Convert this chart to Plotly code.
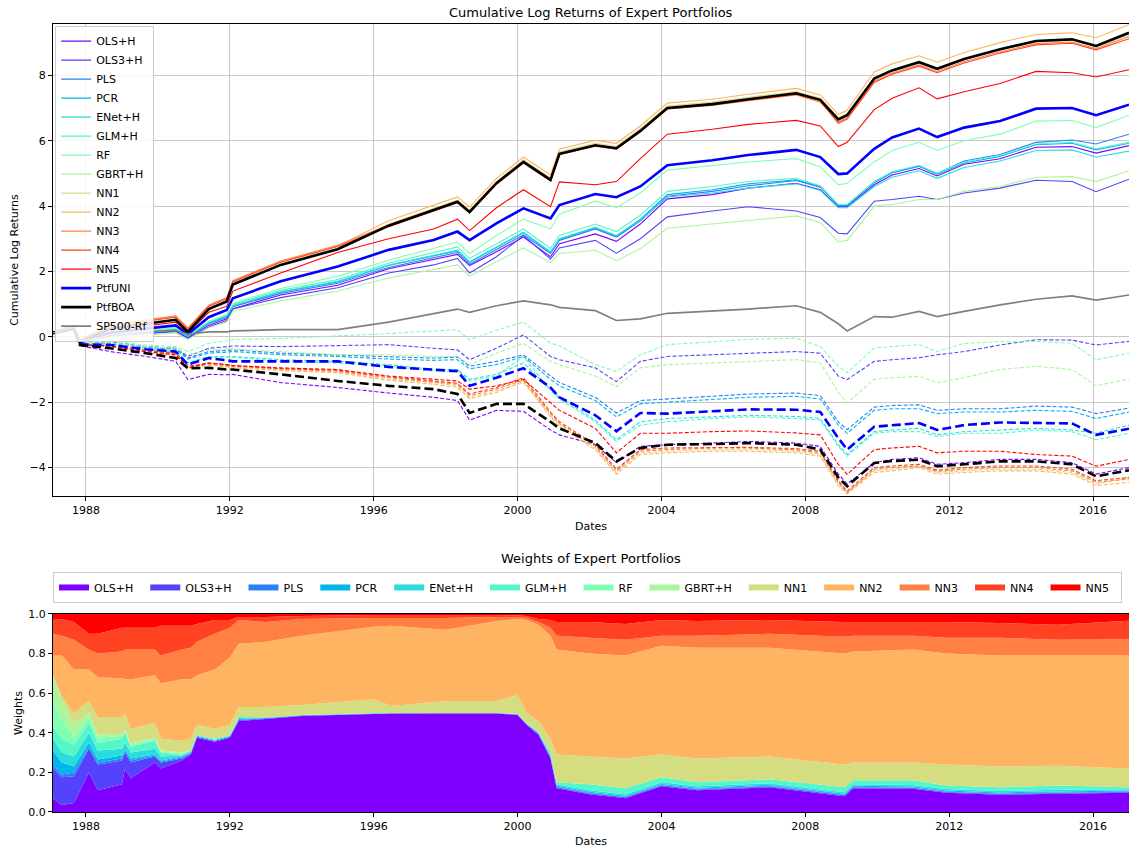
import plotly.graph_objects as go

# ---------------------------------------------------------------------------
# data
# ---------------------------------------------------------------------------
dates = [
    "1987-02-01", "1987-09-01", "1987-11-01", "1988-09-01", "1989-09-01",
    "1990-07-01", "1990-11-01", "1991-06-01", "1991-12-01", "1992-02-01",
    "1993-06-01", "1995-01-01", "1996-06-01", "1997-09-01", "1998-05-01",
    "1998-09-01", "1999-06-01", "2000-03-01", "2000-12-01", "2001-03-01",
    "2002-03-01", "2002-10-01", "2003-06-01", "2004-03-01", "2005-06-01",
    "2006-06-01", "2007-10-01", "2008-06-01", "2008-12-01", "2009-03-01",
    "2009-12-01", "2010-06-01", "2011-03-01", "2011-09-01", "2012-06-01",
    "2013-06-01", "2014-06-01", "2015-06-01", "2016-02-01", "2016-12-31",
]

names = ["OLS+H", "OLS3+H", "PLS", "PCR", "ENet+H", "GLM+H", "RF", "GBRT+H",
         "NN1", "NN2", "NN3", "NN4", "NN5"]

# solid lines (long)
ols_h_long = [0.1, 0.22, -0.2, 0.03, 0.1, 0.18, -0.03, 0.35, 0.55, 0.86, 1.28, 1.58, 2.08, 2.38, 2.52, 2.18, 2.6, 3.05, 2.45, 2.85,
              3.15, 2.92, 3.45, 4.22, 4.35, 4.55, 4.7, 4.5, 3.98, 3.98, 4.65, 4.95, 5.15, 4.92, 5.28, 5.45, 5.8, 5.82, 5.62, 5.85]
ols3_h_long = [0.1, 0.22, -0.2, 0.02, 0.1, 0.16, -0.05, 0.3, 0.5, 0.85, 1.2, 1.5, 1.95, 2.2, 2.4, 1.95, 2.45, 3.1, 2.38, 2.72,
               2.95, 2.56, 3.0, 3.67, 3.85, 3.98, 3.85, 3.65, 3.17, 3.15, 4.15, 4.2, 4.3, 4.2, 4.4, 4.55, 4.79, 4.75, 4.44, 4.82]
pls_long = [0.1, 0.22, -0.2, 0.05, 0.14, 0.22, 0.0, 0.4, 0.6, 0.92, 1.33, 1.64, 2.12, 2.43, 2.58, 2.22, 2.68, 3.12, 2.55, 2.95,
            3.3, 3.05, 3.55, 4.3, 4.45, 4.62, 4.78, 4.58, 4.02, 4.02, 4.72, 5.02, 5.22, 5.0, 5.38, 5.58, 5.95, 6.02, 5.9, 6.2]
pcr_long = [0.1, 0.22, -0.2, 0.06, 0.15, 0.23, 0.01, 0.42, 0.62, 0.94, 1.37, 1.68, 2.18, 2.48, 2.63, 2.28, 2.73, 3.18, 2.58, 2.98,
            3.33, 3.08, 3.6, 4.35, 4.5, 4.68, 4.8, 4.6, 4.03, 4.03, 4.72, 5.02, 5.22, 4.97, 5.32, 5.52, 5.88, 5.92, 5.72, 5.92]
enet_h_long = [0.1, 0.22, -0.2, 0.06, 0.16, 0.24, 0.02, 0.44, 0.64, 0.96, 1.38, 1.7, 2.2, 2.5, 2.65, 2.3, 2.75, 3.2, 2.6, 3.0,
               3.35, 3.1, 3.58, 4.28, 4.4, 4.55, 4.68, 4.48, 3.95, 3.95, 4.6, 4.88, 5.08, 4.85, 5.18, 5.38, 5.7, 5.72, 5.5, 5.68]
glm_h_long = [0.1, 0.23, -0.19, 0.08, 0.18, 0.26, 0.03, 0.46, 0.67, 1.0, 1.42, 1.75, 2.25, 2.58, 2.75, 2.4, 2.85, 3.3, 2.7, 3.1,
              3.45, 3.22, 3.72, 4.45, 4.6, 4.75, 4.85, 4.62, 4.05, 4.05, 4.75, 5.05, 5.25, 5.0, 5.35, 5.55, 5.9, 5.95, 5.75, 5.95]
rf_long = [0.11, 0.24, -0.18, 0.08, 0.18, 0.28, 0.05, 0.48, 0.68, 1.02, 1.48, 1.85, 2.35, 2.72, 2.9, 2.55, 3.1, 3.6, 3.3, 3.75,
           4.15, 3.95, 4.4, 5.1, 5.25, 5.35, 5.45, 5.2, 4.65, 4.7, 5.35, 5.7, 5.95, 5.7, 6.0, 6.2, 6.6, 6.62, 6.4, 6.78]
gbrt_h_long = [0.1, 0.2, -0.22, 0.0, 0.05, 0.12, -0.08, 0.28, 0.45, 0.78, 1.1, 1.4, 1.8, 2.05, 2.2, 1.85, 2.3, 2.72, 2.27, 2.55,
               2.65, 2.33, 2.7, 3.32, 3.45, 3.55, 3.7, 3.5, 2.91, 2.95, 4.0, 4.05, 4.2, 4.2, 4.45, 4.6, 4.88, 4.9, 4.75, 5.08]
nn1_long = [0.12, 0.29, -0.15, 0.27, 0.42, 0.54, 0.17, 0.87, 1.1, 1.62, 2.23, 2.71, 3.45, 3.93, 4.18, 3.87, 4.75, 5.42, 4.85, 5.66,
            5.92, 5.83, 6.36, 7.06, 7.18, 7.33, 7.5, 7.3, 6.7, 6.83, 7.93, 8.18, 8.42, 8.22, 8.5, 8.8, 9.03, 9.08, 8.86, 9.22]
nn2_long = [0.14, 0.34, -0.1, 0.35, 0.5, 0.62, 0.25, 0.95, 1.18, 1.7, 2.3, 2.78, 3.55, 4.03, 4.28, 3.97, 4.85, 5.5, 4.95, 5.75,
            6.01, 5.92, 6.45, 7.15, 7.27, 7.42, 7.6, 7.4, 6.8, 6.93, 8.1, 8.35, 8.6, 8.4, 8.7, 9.0, 9.25, 9.3, 9.15, 9.55]
nn3_long = [0.15, 0.36, -0.08, 0.37, 0.52, 0.64, 0.27, 0.97, 1.2, 1.72, 2.32, 2.8, 3.42, 3.9, 4.14, 3.83, 4.7, 5.35, 4.78, 5.58,
            5.84, 5.74, 6.28, 6.97, 7.08, 7.22, 7.4, 7.18, 6.57, 6.7, 7.82, 8.07, 8.32, 8.12, 8.42, 8.72, 8.97, 9.02, 8.82, 9.18]
nn4_long = [0.14, 0.34, -0.1, 0.33, 0.48, 0.6, 0.23, 0.93, 1.16, 1.68, 2.28, 2.76, 3.37, 3.85, 4.1, 3.79, 4.67, 5.32, 4.77, 5.57,
            5.83, 5.74, 6.27, 6.97, 7.09, 7.24, 7.42, 7.22, 6.53, 6.66, 7.78, 8.03, 8.28, 8.08, 8.38, 8.68, 8.93, 8.98, 8.78, 9.12]
nn5_long = [0.12, 0.26, -0.18, 0.2, 0.33, 0.45, 0.12, 0.75, 0.93, 1.4, 1.95, 2.58, 3.0, 3.3, 3.6, 3.25, 3.95, 4.5, 3.98, 4.74,
            4.65, 4.75, 5.45, 6.2, 6.35, 6.5, 6.62, 6.45, 5.82, 5.95, 6.95, 7.3, 7.62, 7.28, 7.5, 7.75, 8.12, 8.08, 7.95, 8.17]
uni_long = [0.11, 0.25, -0.17, 0.12, 0.25, 0.35, 0.08, 0.6, 0.82, 1.18, 1.7, 2.15, 2.66, 2.96, 3.22, 2.96, 3.47, 3.93, 3.62, 4.03,
            4.37, 4.27, 4.6, 5.25, 5.4, 5.56, 5.72, 5.5, 4.98, 5.0, 5.75, 6.1, 6.37, 6.11, 6.4, 6.6, 6.98, 7.0, 6.78, 7.1]
boa_long = [0.12, 0.28, -0.15, 0.25, 0.4, 0.52, 0.15, 0.85, 1.08, 1.6, 2.2, 2.68, 3.4, 3.88, 4.13, 3.82, 4.7, 5.35, 4.8, 5.6,
            5.86, 5.77, 6.3, 7.0, 7.12, 7.27, 7.45, 7.25, 6.65, 6.78, 7.9, 8.15, 8.4, 8.2, 8.5, 8.8, 9.05, 9.1, 8.9, 9.3]
sp500_rf = [0.12, 0.3, -0.12, 0.02, 0.15, 0.2, 0.08, 0.15, 0.15, 0.18, 0.22, 0.22, 0.45, 0.7, 0.85, 0.75, 0.95, 1.1, 0.98, 0.9,
            0.8, 0.5, 0.55, 0.72, 0.78, 0.85, 0.95, 0.75, 0.4, 0.18, 0.62, 0.6, 0.78, 0.62, 0.78, 0.98, 1.15, 1.25, 1.12, 1.28]

# dashed lines (short)
ols_h_short = [0.12, 0.28, -0.27, -0.45, -0.6, -0.75, -1.31, -1.15, -1.16, -1.15, -1.4, -1.55, -1.72, -1.85, -1.95, -2.55, -2.25, -2.28, -2.85, -3.0,
               -3.3, -3.85, -3.35, -3.3, -3.25, -3.2, -3.25, -3.35, -4.2, -4.5, -3.85, -3.75, -3.7, -3.9, -3.85, -3.75, -3.75, -3.85, -4.2, -4.0]
ols3_h_short = [0.12, 0.28, -0.22, -0.2, -0.3, -0.35, -0.6, -0.35, -0.3, -0.28, -0.3, -0.28, -0.24, -0.35, -0.4, -0.7, -0.35, 0.06, -0.6, -0.7,
                -0.95, -1.37, -0.75, -0.6, -0.55, -0.5, -0.45, -0.5, -1.2, -1.31, -0.75, -0.7, -0.64, -0.55, -0.45, -0.25, -0.09, -0.1, -0.25, -0.14]
pls_short = [0.12, 0.28, -0.22, -0.15, -0.3, -0.35, -0.65, -0.45, -0.42, -0.4, -0.5, -0.55, -0.6, -0.65, -0.62, -0.9, -0.75, -0.55, -1.2, -1.4,
             -1.85, -2.33, -1.95, -1.9, -1.8, -1.75, -1.72, -1.8, -2.6, -2.84, -2.15, -2.1, -2.08, -2.25, -2.2, -2.2, -2.12, -2.15, -2.35, -2.18]
pcr_short = [0.12, 0.28, -0.22, -0.17, -0.32, -0.38, -0.68, -0.5, -0.47, -0.45, -0.55, -0.6, -0.68, -0.72, -0.7, -0.98, -0.85, -0.6, -1.3, -1.5,
             -1.95, -2.45, -2.05, -2.0, -1.9, -1.85, -1.82, -1.9, -2.7, -2.95, -2.25, -2.2, -2.2, -2.35, -2.3, -2.3, -2.25, -2.28, -2.5, -2.3]
enet_h_short = [0.12, 0.28, -0.24, -0.22, -0.38, -0.45, -0.8, -0.6, -0.6, -0.6, -0.7, -0.75, -0.85, -1.0, -1.0, -1.3, -1.15, -0.8, -1.6, -1.85,
                -2.55, -3.15, -2.6, -2.5, -2.45, -2.4, -2.44, -2.5, -3.3, -3.6, -2.9, -2.85, -2.8, -3.0, -2.9, -2.85, -2.8, -2.85, -2.95, -2.7]
glm_h_short = [0.12, 0.28, -0.24, -0.25, -0.4, -0.48, -0.85, -0.62, -0.62, -0.62, -0.75, -0.8, -0.9, -1.05, -1.05, -1.35, -1.2, -0.6, -1.65, -1.9,
               -2.6, -3.2, -2.7, -2.6, -2.5, -2.45, -2.5, -2.55, -3.35, -3.65, -2.95, -2.9, -2.9, -3.05, -2.95, -2.95, -2.85, -2.9, -3.15, -2.95]
rf_short = [0.12, 0.28, -0.2, -0.12, -0.25, -0.3, -0.45, -0.2, -0.12, -0.08, -0.05, 0.02, 0.1, 0.18, 0.22, -0.09, 0.2, 0.45, -0.19, -0.28,
            -0.85, -1.06, -0.55, -0.24, -0.15, -0.08, -0.04, -0.3, -0.9, -1.1, -0.34, -0.3, -0.24, -0.45, -0.2, -0.15, -0.14, -0.2, -0.7, -0.5]
gbrt_h_short = [0.12, 0.28, -0.22, -0.18, -0.3, -0.35, -0.55, -0.4, -0.37, -0.37, -0.45, -0.55, -0.55, -0.6, -0.6, -0.85, -0.5, -0.2, -0.75, -0.85,
                -1.2, -1.52, -0.95, -0.85, -0.8, -0.75, -0.7, -0.8, -1.7, -2.02, -1.3, -1.25, -1.21, -1.4, -1.25, -1.0, -0.9, -1.0, -1.5, -1.29]
nn1_short = [0.12, 0.28, -0.25, -0.3, -0.45, -0.55, -0.95, -0.85, -0.9, -0.92, -1.0, -1.08, -1.3, -1.4, -1.5, -1.85, -1.65, -1.4, -2.4, -2.7,
             -3.4, -4.15, -3.55, -3.5, -3.45, -3.45, -3.5, -3.6, -4.5, -4.75, -4.1, -4.05, -3.95, -4.15, -4.1, -4.05, -4.05, -4.15, -4.5, -4.3]
nn2_short = [0.12, 0.28, -0.25, -0.3, -0.47, -0.57, -0.97, -0.87, -0.92, -0.95, -1.03, -1.1, -1.33, -1.45, -1.55, -1.9, -1.7, -1.35, -2.45, -2.75,
             -3.45, -4.2, -3.6, -3.55, -3.5, -3.5, -3.55, -3.65, -4.55, -4.8, -4.15, -4.1, -4.0, -4.2, -4.15, -4.1, -4.1, -4.2, -4.55, -4.45]
nn3_short = [0.12, 0.28, -0.24, -0.28, -0.43, -0.52, -0.93, -0.82, -0.88, -0.9, -0.98, -1.05, -1.25, -1.38, -1.45, -1.8, -1.6, -1.32, -2.35, -2.65,
             -3.35, -4.1, -3.5, -3.45, -3.4, -3.4, -3.46, -3.55, -4.45, -4.78, -4.05, -4.0, -3.95, -4.12, -4.05, -4.0, -4.0, -4.1, -4.45, -4.35]
nn4_short = [0.12, 0.28, -0.24, -0.27, -0.42, -0.5, -0.9, -0.8, -0.85, -0.88, -0.97, -1.02, -1.22, -1.35, -1.42, -1.75, -1.55, -1.25, -2.3, -2.6,
             -3.3, -4.05, -3.45, -3.4, -3.38, -3.38, -3.42, -3.5, -4.4, -4.72, -4.0, -3.95, -3.9, -4.08, -4.0, -3.95, -3.95, -4.05, -4.4, -4.3]
nn5_short = [0.12, 0.28, -0.25, -0.28, -0.45, -0.55, -0.95, -0.8, -0.85, -0.88, -0.95, -1.0, -1.2, -1.3, -1.35, -1.6, -1.5, -1.3, -2.0, -2.25,
             -2.8, -3.55, -2.95, -2.95, -2.9, -2.88, -2.94, -3.0, -3.9, -4.21, -3.45, -3.4, -3.35, -3.55, -3.5, -3.5, -3.6, -3.65, -3.96, -3.75]
uni_short = [0.12, 0.28, -0.23, -0.25, -0.38, -0.45, -0.85, -0.65, -0.72, -0.75, -0.75, -0.75, -0.92, -1.0, -1.05, -1.5, -1.25, -0.96, -1.55, -1.85,
             -2.4, -2.89, -2.33, -2.35, -2.28, -2.22, -2.23, -2.3, -3.1, -3.45, -2.75, -2.7, -2.64, -2.85, -2.7, -2.62, -2.64, -2.65, -3.0, -2.81]
boa_short = [0.12, 0.28, -0.25, -0.35, -0.5, -0.65, -0.96, -0.95, -1.0, -1.0, -1.15, -1.35, -1.5, -1.6, -1.75, -2.33, -2.05, -2.05, -2.6, -2.8,
             -3.25, -3.81, -3.4, -3.3, -3.28, -3.25, -3.3, -3.45, -4.3, -4.57, -3.86, -3.8, -3.76, -3.96, -3.9, -3.81, -3.81, -3.9, -4.27, -4.08]

# weights of the expert portfolios (stacked)
w_dates = [
    "1987-02-01", "1987-05-01", "1987-09-01", "1988-02-01", "1988-05-01",
    "1989-01-01", "1989-02-01", "1989-04-01", "1989-12-01", "1990-02-01",
    "1990-09-01", "1990-12-01", "1991-02-01", "1991-08-01", "1992-01-01",
    "1992-04-01", "1993-01-01", "1994-01-01", "1996-01-01", "1996-07-01",
    "1998-01-01", "1999-06-01", "2000-01-01", "2000-04-01", "2000-08-01",
    "2000-12-01", "2001-02-01", "2002-01-01", "2003-01-01", "2004-01-01",
    "2005-01-01", "2007-01-01", "2009-02-01", "2009-05-01", "2011-01-01",
    "2011-12-01", "2013-06-01", "2015-01-01", "2016-12-31",
]
w_ols_h = [0.07, 0.035, 0.045, 0.2, 0.11, 0.14, 0.22, 0.17, 0.25, 0.22, 0.26, 0.29, 0.375, 0.355, 0.375, 0.46, 0.47, 0.485, 0.495, 0.497,
           0.498, 0.498, 0.49, 0.44, 0.39, 0.27, 0.12, 0.09, 0.07, 0.13, 0.11, 0.125, 0.08, 0.12, 0.117, 0.097, 0.087, 0.092, 0.097]
w_ols3_h = [0.15, 0.14, 0.135, 0.12, 0.13, 0.12, 0.08, 0.08, 0.03, 0.03, 0.01, 0.005, 0.005, 0.005, 0.005, 0.005, 0.003, 0.002, 0.001, 0.001,
            0.001, 0.001, 0.002, 0.003, 0.004, 0.005, 0.005, 0.004, 0.004, 0.004, 0.004, 0.004, 0.004, 0.004, 0.004, 0.004, 0.004, 0.004, 0.004]
w_pls = [0.02, 0.015, 0.02, 0.01, 0.01, 0.01, 0.01, 0.01, 0.005, 0.005, 0.005, 0.0, 0.0, 0.0, 0.0, 0.0, 0.0, 0.0, 0.0, 0.0,
         0.0, 0.0, 0.0, 0.0, 0.001, 0.003, 0.002, 0.003, 0.003, 0.003, 0.003, 0.003, 0.003, 0.003, 0.003, 0.003, 0.003, 0.003, 0.003]
w_pcr = [0.07, 0.06, 0.03, 0.02, 0.015, 0.015, 0.01, 0.01, 0.005, 0.005, 0.005, 0.005, 0.0, 0.0, 0.0, 0.005, 0.002, 0.001, 0.001, 0.001,
         0.0005, 0.0005, 0.001, 0.002, 0.003, 0.005, 0.005, 0.005, 0.005, 0.005, 0.005, 0.005, 0.005, 0.005, 0.005, 0.005, 0.005, 0.005, 0.004]
w_enet_h = [0.06, 0.05, 0.05, 0.05, 0.045, 0.035, 0.03, 0.03, 0.03, 0.02, 0.005, 0.005, 0.005, 0.005, 0.005, 0.005, 0.002, 0.001, 0.001, 0.0005,
            0.0005, 0.0005, 0.001, 0.003, 0.004, 0.007, 0.008, 0.008, 0.008, 0.008, 0.008, 0.008, 0.008, 0.008, 0.008, 0.007, 0.007, 0.008, 0.007]
w_glm_h = [0.06, 0.07, 0.06, 0.05, 0.04, 0.05, 0.05, 0.03, 0.04, 0.02, 0.005, 0.005, 0.005, 0.005, 0.005, 0.005, 0.003, 0.001, 0.002, 0.0005,
           0.0, 0.0, 0.001, 0.002, 0.003, 0.01, 0.01, 0.03, 0.03, 0.025, 0.02, 0.02, 0.025, 0.02, 0.023, 0.018, 0.019, 0.022, 0.01]
w_rf = [0.13, 0.1, 0.04, 0.03, 0.025, 0.015, 0.01, 0.01, 0.01, 0.005, 0.005, 0.0, 0.0, 0.0, 0.0, 0.0, 0.0, 0.0, 0.0, 0.0,
        0.0, 0.0, 0.0, 0.0, 0.0, 0.0, 0.0, 0.0, 0.0, 0.0, 0.0, 0.0, 0.0, 0.0, 0.0, 0.0, 0.0, 0.0, 0.0]
w_gbrt_h = [0.12, 0.1, 0.06, 0.02, 0.015, 0.01, 0.005, 0.005, 0.005, 0.005, 0.005, 0.0, 0.0, 0.0, 0.0, 0.0, 0.0, 0.0, 0.0, 0.0,
            0.0, 0.0, 0.0, 0.0, 0.0, 0.0, 0.0, 0.0, 0.0, 0.0, 0.0, 0.0, 0.0, 0.0, 0.0, 0.0, 0.0, 0.0, 0.0]
w_nn1 = [0.01, 0.015, 0.06, 0.06, 0.09, 0.085, 0.085, 0.075, 0.075, 0.06, 0.06, 0.06, 0.05, 0.05, 0.05, 0.05, 0.05, 0.05, 0.07, 0.035,
         0.06, 0.06, 0.095, 0.05, 0.055, 0.07, 0.14, 0.14, 0.15, 0.115, 0.12, 0.115, 0.115, 0.09, 0.09, 0.106, 0.105, 0.1, 0.095]
w_nn2 = [0.1, 0.205, 0.22, 0.16, 0.2, 0.195, 0.17, 0.25, 0.24, 0.28, 0.31, 0.3, 0.25, 0.3, 0.34, 0.32, 0.33, 0.35, 0.365, 0.405,
         0.36, 0.405, 0.385, 0.47, 0.485, 0.52, 0.53, 0.52, 0.52, 0.55, 0.56, 0.55, 0.56, 0.56, 0.57, 0.56, 0.56, 0.556, 0.57]
w_nn3 = [0.11, 0.1, 0.15, 0.1, 0.12, 0.135, 0.15, 0.15, 0.13, 0.14, 0.15, 0.16, 0.17, 0.18, 0.15, 0.12, 0.1, 0.085, 0.045, 0.04,
         0.06, 0.02, 0.01, 0.01, 0.015, 0.04, 0.07, 0.08, 0.08, 0.05, 0.06, 0.07, 0.085, 0.08, 0.07, 0.08, 0.09, 0.08, 0.083]
w_nn4 = [0.07, 0.085, 0.09, 0.08, 0.1, 0.12, 0.11, 0.11, 0.11, 0.15, 0.12, 0.11, 0.09, 0.07, 0.04, 0.015, 0.025, 0.015, 0.015, 0.015,
         0.015, 0.01, 0.008, 0.01, 0.015, 0.04, 0.07, 0.08, 0.08, 0.08, 0.075, 0.07, 0.075, 0.07, 0.07, 0.08, 0.075, 0.075, 0.093]
w_nn5 = [0.03, 0.025, 0.04, 0.1, 0.1, 0.07, 0.07, 0.07, 0.07, 0.06, 0.06, 0.06, 0.05, 0.03, 0.03, 0.015, 0.015, 0.01, 0.005, 0.005,
         0.005, 0.005, 0.007, 0.01, 0.025, 0.03, 0.04, 0.04, 0.05, 0.03, 0.035, 0.03, 0.04, 0.04, 0.04, 0.04, 0.045, 0.055, 0.034]

# matplotlib "rainbow" colours for the 13 experts
colors = ["#8000ff", "#5542fd", "#2a80f6", "#00b4ec", "#2adddd", "#55f6ca", "#80ffb4",
          "#aaf69b", "#d4dd80", "#ffb462", "#ff8042", "#ff4221", "#ff0000"]

longs = [ols_h_long, ols3_h_long, pls_long, pcr_long, enet_h_long, glm_h_long, rf_long,
         gbrt_h_long, nn1_long, nn2_long, nn3_long, nn4_long, nn5_long]
shorts = [ols_h_short, ols3_h_short, pls_short, pcr_short, enet_h_short, glm_h_short, rf_short,
          gbrt_h_short, nn1_short, nn2_short, nn3_short, nn4_short, nn5_short]
weights = [w_ols_h, w_ols3_h, w_pls, w_pcr, w_enet_h, w_glm_h, w_rf, w_gbrt_h,
           w_nn1, w_nn2, w_nn3, w_nn4, w_nn5]

FONT = "DejaVu Sans"
X_RANGE = ["1987-02-01", "2016-12-31"]
PAD = "\u00a0\u00a0"  # a little extra room between the horizontal legend entries

fig = go.Figure()

# --- top panel: cumulative log returns ------------------------------------
for name, col, lo, sh in zip(names, colors, longs, shorts):
    fig.add_trace(go.Scatter(x=dates, y=lo, name=name, mode="lines",
                             line=dict(color=col, width=1.1), xaxis="x", yaxis="y"))
    fig.add_trace(go.Scatter(x=dates, y=sh, name=name, mode="lines", showlegend=False,
                             line=dict(color=col, width=1.1, dash="4px,2px"), xaxis="x", yaxis="y"))

fig.add_trace(go.Scatter(x=dates, y=uni_long, name="PtfUNI", mode="lines",
                         line=dict(color="#0000ff", width=2.6)))
fig.add_trace(go.Scatter(x=dates, y=uni_short, name="PtfUNI", mode="lines", showlegend=False,
                         line=dict(color="#0000ff", width=2.6, dash="9px,4px")))
fig.add_trace(go.Scatter(x=dates, y=boa_long, name="PtfBOA", mode="lines",
                         line=dict(color="#000000", width=2.6)))
fig.add_trace(go.Scatter(x=dates, y=boa_short, name="PtfBOA", mode="lines", showlegend=False,
                         line=dict(color="#000000", width=2.6, dash="9px,4px")))
fig.add_trace(go.Scatter(x=dates, y=sp500_rf, name="SP500-Rf", mode="lines",
                         line=dict(color="#808080", width=1.7)))

# --- bottom panel: stacked weights ----------------------------------------
for name, col, w in zip(names, colors, weights):
    fig.add_trace(go.Scatter(x=w_dates, y=w, name=name + PAD, mode="none", stackgroup="w",
                             fillcolor=col, line=dict(width=0), legend="legend2",
                             xaxis="x2", yaxis="y2"))

axis_common = dict(showline=True, mirror=True, linecolor="black", linewidth=1,
                   ticks="outside", ticklen=4, tickcolor="black",
                   tickfont=dict(size=11), zeroline=False, automargin=False)

fig.update_layout(
    width=1129, height=852,
    margin=dict(l=53, r=0, t=24, b=40),
    font=dict(family=FONT, size=11, color="black"),
    plot_bgcolor="white", paper_bgcolor="white",
    xaxis=dict(domain=[0, 1], anchor="y", range=X_RANGE, type="date",
               tick0="1988-01-01", dtick="M48", tickformat="%Y",
               showgrid=True, gridcolor="#c8c8c8", gridwidth=1,
               title=dict(text="Dates", font=dict(size=11), standoff=6), **axis_common),
    yaxis=dict(domain=[0.401, 1], anchor="x", range=[-4.87, 9.57], dtick=2, tick0=0,
               showgrid=True, gridcolor="#c8c8c8", gridwidth=1,
               title=dict(text="Cumulative Log Returns", font=dict(size=11), standoff=8),
               **axis_common),
    xaxis2=dict(domain=[0, 1], anchor="y2", range=X_RANGE, type="date",
                tick0="1988-01-01", dtick="M48", tickformat="%Y", showgrid=False,
                title=dict(text="Dates", font=dict(size=11), standoff=5), **axis_common),
    yaxis2=dict(domain=[0, 0.2513], anchor="x2", range=[0, 1], dtick=0.2, tick0=0,
                tickformat=".1f", showgrid=False,
                title=dict(text="Weights", font=dict(size=11), standoff=3), **axis_common),
    legend=dict(x=0.002, y=0.998, xanchor="left", yanchor="top",
                bgcolor="rgba(255,255,255,0.85)", bordercolor="#cccccc", borderwidth=1,
                font=dict(size=11), tracegroupgap=0),
    legend2=dict(orientation="h", x=0, y=0.3046, xanchor="left", yanchor="top",
                 traceorder="normal", bgcolor="white", bordercolor="#cccccc", borderwidth=1,
                 font=dict(size=11)),
    annotations=[
        dict(text="Cumulative Log Returns of Expert Portfolios", x=0.5, y=1.0152,
             xref="paper", yref="paper", showarrow=False, font=dict(size=13),
             xanchor="center", yanchor="middle"),
        dict(text="Weights of Expert Portfolios", x=0.5, y=0.3223,
             xref="paper", yref="paper", showarrow=False, font=dict(size=13),
             xanchor="center", yanchor="middle"),
    ],
    showlegend=True,
)

# the page's default body margin would shift the fixed-size figure by 8px
fig.write_html("out.html", config={"displayModeBar": False},
               post_script="document.body.style.margin='0';document.body.style.overflow='hidden';")
